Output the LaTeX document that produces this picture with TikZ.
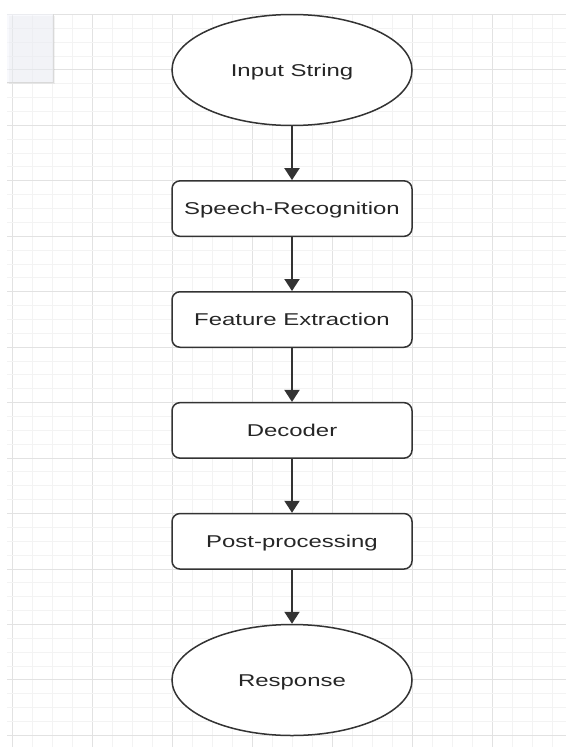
\documentclass[tikz,border=0pt]{standalone}
\usepackage{fontspec}
\setmainfont{Liberation Sans}
\usetikzlibrary{shapes.geometric,arrows.meta}
\definecolor{gridminor}{HTML}{F3F3F3}
\definecolor{gridmajor}{HTML}{E2E2E2}
\definecolor{edge}{HTML}{333333}
\definecolor{panel}{HTML}{F3F5FC}
\newcommand{\lbl}[1]{\scalebox{1.4}[1]{#1}}
\tikzset{
  shapeline/.style={draw=edge, line width=1.5pt, fill=white, inner sep=0pt,
    text=black!85, font=\fontsize{17.1}{20}\selectfont, text height=12.3pt, text depth=0pt},
  oval/.style={shapeline, ellipse, minimum width=240pt, minimum height=111pt},
  stepbox/.style={shapeline, rectangle, rounded corners=8pt, minimum width=240pt, minimum height=55.5pt},
  flow/.style={draw=edge, line width=2pt, -{Triangle[width=15pt,length=12pt]}}
}
\begin{document}
\begin{tikzpicture}[x=1pt,y=-1pt]
\useasboundingbox (0,0) rectangle (566,747);
\fill[white] (0,0) rectangle (566,747);
% grid
\foreach \i in {0,...,27}{
  \pgfmathsetmacro{\xx}{12+20*\i}
  \pgfmathtruncatemacro{\m}{mod(\i,4)}
  \ifnum\m=0 \draw[gridmajor, line width=1pt] (\xx,15) -- (\xx,747);
  \else \draw[gridminor, line width=1pt] (\xx,15) -- (\xx,747); \fi
}
\foreach \j in {0,...,52}{
  \pgfmathsetmacro{\yy}{14.5+13.8625*\j}
  \pgfmathtruncatemacro{\m}{mod(\j,4)}
  \ifnum\m=0 \draw[gridmajor, line width=1pt] (7,\yy) -- (566,\yy);
  \else \draw[gridminor, line width=1pt] (7,\yy) -- (566,\yy); \fi
}
% top-left panel (semi-transparent, grid shows through)
\fill[black, fill opacity=0.05] (9,16) rectangle (55,84);
\fill[panel, fill opacity=0.55] (7,14) rectangle (53,82);
\draw[black!15, line width=0.8pt] (53,14) -- (53,82) -- (7,82);
% nodes
\node[oval]    (in)  at (292,70)    {\lbl{Input String}};
\node[stepbox] (sr)  at (292,208.6) {\lbl{Speech-Recognition}};
\node[stepbox] (fe)  at (292,319.5) {\lbl{Feature Extraction}};
\node[stepbox] (de)  at (292,430.4) {\lbl{Decoder}};
\node[stepbox] (pp)  at (292,541.3) {\lbl{Post-processing}};
\node[oval]    (re)  at (292,680)   {\lbl{Response}};
% connectors
\draw[flow] (in) -- (sr);
\draw[flow] (sr) -- (fe);
\draw[flow] (fe) -- (de);
\draw[flow] (de) -- (pp);
\draw[flow] (pp) -- (re);
\end{tikzpicture}
\end{document}
